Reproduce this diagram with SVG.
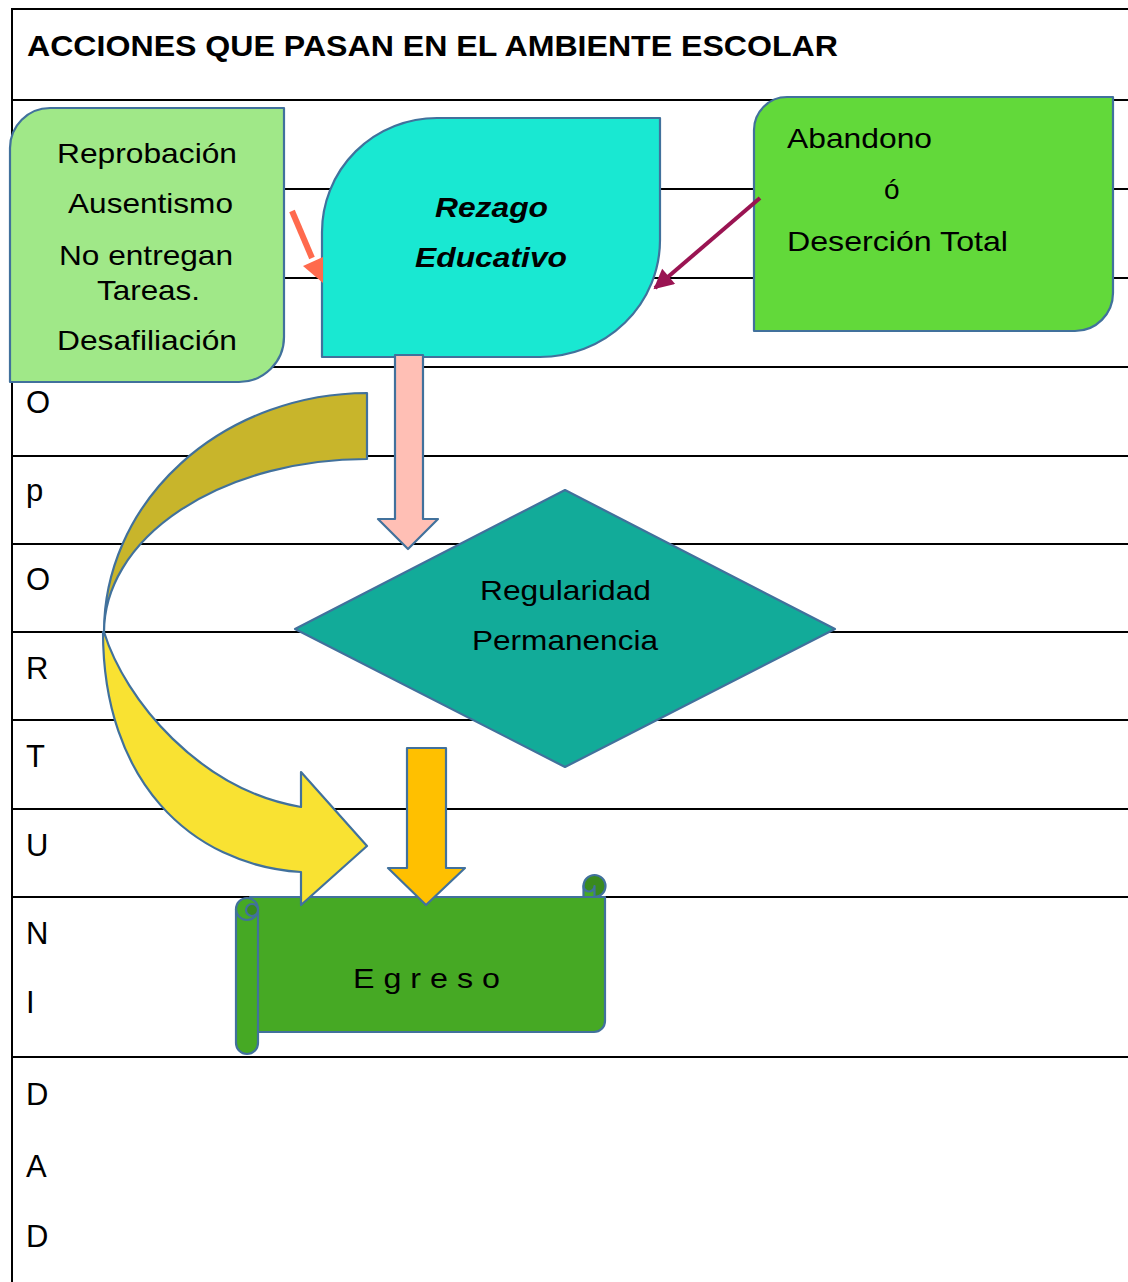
<svg xmlns="http://www.w3.org/2000/svg" width="1128" height="1282" viewBox="0 0 1128 1282">
<style>
.grid{stroke:#000;stroke-width:2;fill:none}
.shape{stroke:#41719C;stroke-width:2.2;stroke-linejoin:round}
.t{font-family:"Liberation Sans",Arial,sans-serif;font-size:28px;fill:#000}
.lt{font-family:"Liberation Sans",Arial,sans-serif;font-size:31px;fill:#000}
.h{font-family:"Liberation Sans",Arial,sans-serif;font-size:30px;font-weight:bold;fill:#000}
.bi{font-weight:bold;font-style:italic}
</style>
<defs>
<marker id="headPurple" viewBox="0 0 10 10" refX="9" refY="5" markerWidth="5.5" markerHeight="5" orient="auto" markerUnits="strokeWidth">
<path d="M0,0 L10,5 L0,10 Z" fill="#9A1452"/>
</marker>
</defs>
<rect width="1128" height="1282" fill="#fff"/>
<g id="table">
<line class="grid" x1="11" y1="9" x2="1128" y2="9"/>
<line class="grid" x1="12" y1="8" x2="12" y2="1282"/>
<line class="grid" x1="12" y1="100" x2="1128" y2="100"/>
<line class="grid" x1="12" y1="189" x2="1128" y2="189"/>
<line class="grid" x1="12" y1="278" x2="1128" y2="278"/>
<line class="grid" x1="12" y1="367" x2="1128" y2="367"/>
<line class="grid" x1="12" y1="456" x2="1128" y2="456"/>
<line class="grid" x1="12" y1="544" x2="1128" y2="544"/>
<line class="grid" x1="12" y1="632" x2="1128" y2="632"/>
<line class="grid" x1="12" y1="720" x2="1128" y2="720"/>
<line class="grid" x1="12" y1="809" x2="1128" y2="809"/>
<line class="grid" x1="12" y1="897" x2="1128" y2="897"/>
<line class="grid" x1="12" y1="1057" x2="1128" y2="1057"/>
<text class="h" x="27" y="56" textLength="811" lengthAdjust="spacingAndGlyphs">ACCIONES QUE PASAN EN EL AMBIENTE ESCOLAR</text>
<text class="lt" x="26" y="413">O</text>
<text class="lt" x="26" y="501">p</text>
<text class="lt" x="26" y="590">O</text>
<text class="lt" x="26" y="679">R</text>
<text class="lt" x="26" y="767">T</text>
<text class="lt" x="26" y="856">U</text>
<text class="lt" x="26" y="944">N</text>
<text class="lt" x="26" y="1013">I</text>
<text class="lt" x="26" y="1105">D</text>
<text class="lt" x="26" y="1177">A</text>
<text class="lt" x="26" y="1247">D</text>
</g>
<g id="node-causas">
<path class="shape" fill="#A0E888" d="M10,382 V148 A40,40 0 0 1 50,108 H284 V337 A45,45 0 0 1 239,382 Z"/>
<text class="t" x="57" y="163" textLength="180" lengthAdjust="spacingAndGlyphs">Reprobación</text>
<text class="t" x="68" y="213" textLength="165" lengthAdjust="spacingAndGlyphs">Ausentismo</text>
<text class="t" x="59" y="265" textLength="174" lengthAdjust="spacingAndGlyphs">No entregan</text>
<text class="t" x="97" y="300" textLength="103" lengthAdjust="spacingAndGlyphs">Tareas.</text>
<text class="t" x="57" y="350" textLength="180" lengthAdjust="spacingAndGlyphs">Desafiliación</text>
</g>
<g id="node-rezago">
<path class="shape" fill="#19E8D2" d="M322,357 V232 A115,114 0 0 1 437,118 H660 V240 A120,117 0 0 1 540,357 Z"/>
<text class="t bi" x="435" y="217" textLength="113" lengthAdjust="spacingAndGlyphs">Rezago</text>
<text class="t bi" x="415" y="267" textLength="152" lengthAdjust="spacingAndGlyphs">Educativo</text>
</g>
<g id="node-abandono">
<path class="shape" fill="#62D93A" d="M754,331 V130 A33,33 0 0 1 787,97 H1113 V293 A38,38 0 0 1 1075,331 Z"/>
<text class="t" x="787" y="148" textLength="145" lengthAdjust="spacingAndGlyphs">Abandono</text>
<text class="t" x="884" y="199">ó</text>
<text class="t" x="787" y="251" textLength="221" lengthAdjust="spacingAndGlyphs">Deserción Total</text>
</g>
<g id="node-regularidad">
<polygon class="shape" fill="#12AB99" points="565,490 835,629 565,767 295,629"/>
<text class="t" x="480" y="600" textLength="171" lengthAdjust="spacingAndGlyphs">Regularidad</text>
<text class="t" x="472" y="650" textLength="186" lengthAdjust="spacingAndGlyphs">Permanencia</text>
</g>
<g id="node-egreso">
<path class="shape" fill="#46A924" d="M250,897 H605 V1021 A11,11 0 0 1 594,1032 H250 Z"/>
<circle class="shape" fill="#3A8A1E" cx="594.5" cy="886" r="11"/>
<path class="shape" fill="#46A924" d="M583.5,886 A5.5,5.5 0 0 0 594.5,886 V897 H583.5 Z"/>
<path class="shape" fill="#46A924" d="M236,909 V1043 A11,11 0 0 0 258,1043 V909 Z"/>
<circle class="shape" fill="#46A924" cx="247" cy="909" r="11"/>
<circle class="shape" fill="#3A8A1E" cx="252" cy="910" r="6"/>
<text class="t" x="353" y="988" textLength="147" lengthAdjust="spacingAndGlyphs">E g r e s o</text>
</g>
<g id="connectors">
<line x1="292" y1="211" x2="312" y2="258" stroke="#FF6A4D" stroke-width="6"/>
<polygon fill="#FF6A4D" points="303,266 323,257 323,283"/>
<line x1="760" y1="198" x2="655" y2="288" stroke="#9A1452" stroke-width="4" marker-end="url(#headPurple)"/>
<polygon class="shape" fill="#FFBFB5" points="395,355 423,355 423,519 438,519 408,549 378,519 395,519"/>
<path class="shape" fill="#C8B52B" d="M367,393 V459 A263,173 0 0 0 104,632 A264,239 0 0 1 367,393 Z"/>
<path class="shape" fill="#F9E232" d="M104,632 C125,700 200,790 301,807 L301,772 L367,846 L301,905 L301,872 C190,865 103,780 103,632 Z"/>
<polygon class="shape" fill="#FFC000" points="407,748 446,748 446,868 465,868 426,905 388,868 407,868"/>
</g>
</svg>
